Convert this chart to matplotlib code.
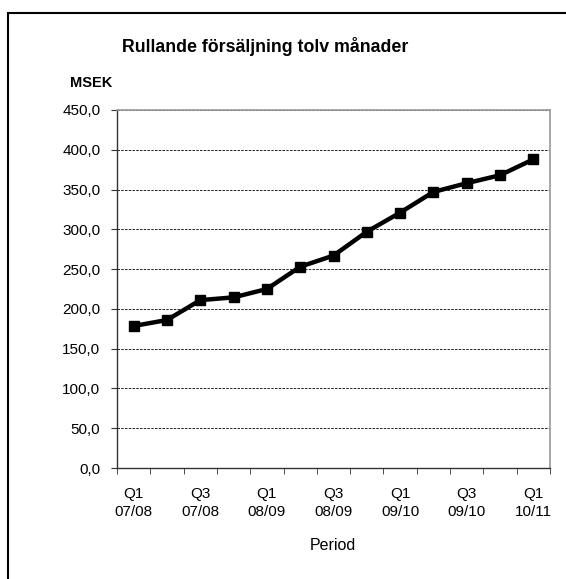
import matplotlib
matplotlib.use("Agg")
import matplotlib.pyplot as plt
from matplotlib.patches import Rectangle
from matplotlib.ticker import FixedLocator, FuncFormatter

plt.rcParams['font.family'] = ['Liberation Sans', 'DejaVu Sans']

periods = ["Q1 07/08", "Q2 07/08", "Q3 07/08", "Q4 07/08",
           "Q1 08/09", "Q2 08/09", "Q3 08/09", "Q4 08/09",
           "Q1 09/10", "Q2 09/10", "Q3 09/10", "Q4 09/10",
           "Q1 10/11"]
values = [178.5, 186, 211, 214.5, 225, 253, 267, 297, 321, 347, 358, 368, 388]
tick_labels = ["Q1\n07/08", "Q3\n07/08", "Q1\n08/09", "Q3\n08/09",
               "Q1\n09/10", "Q3\n09/10", "Q1\n10/11"]

fig = plt.figure(figsize=(5.66, 5.79), dpi=100)
ax = fig.add_axes([117/566, 1-468/579, (550-117)/566, (468-110)/579])

x = list(range(len(values)))
ax.plot(x, values, color='black', lw=3.2, marker='s', ms=7.5, zorder=3)

ax.set_xlim(-0.5, len(values)-0.5)
ax.set_ylim(0, 450)
ax.yaxis.set_major_locator(FixedLocator([i*50 for i in range(10)]))
ax.yaxis.set_major_formatter(FuncFormatter(lambda v, p: f"{v:.1f}".replace('.', ',')))
ax.set_xticks([i for i in range(0, len(values), 2)])
ax.set_xticklabels(tick_labels, linespacing=1.3)
ax.set_xticks([i-0.5 for i in range(len(values)+1)], minor=True)
ax.tick_params(axis='x', which='major', length=0, pad=14, labelsize=11)
ax.tick_params(axis='x', which='minor', length=4, direction='out', color='#333333')
ax.tick_params(axis='y', which='major', length=4, direction='out', labelsize=11, color='#333333', pad=8)
ax.grid(axis='y', color='black', ls=(0, (3, 1.5)), lw=0.6)
for s in ['top', 'right']:
    ax.spines[s].set_color('#999999')
    ax.spines[s].set_linewidth(1.2)
for s in ['left', 'bottom']:
    ax.spines[s].set_color('#333333')
    ax.spines[s].set_linewidth(1.0)
ax.set_axisbelow(True)

fig.text(0.5 * (120+410)/566, 1-47/579, "Rullande försäljning tolv månader",
         ha='center', va='center', fontsize=12.8, fontweight='bold')
fig.text(91/566, 1-83/579, "MSEK", ha='center', va='center', fontsize=10.5, fontweight='bold')
fig.text(333/566, 1-545/579, "Period", ha='center', va='center', fontsize=11.5)

fig.patches.append(Rectangle((8/566, -0.1), 1.2, 1.1 - 13/579 + 0.0,
                             transform=fig.transFigure, fill=False,
                             edgecolor='black', lw=1.5))

fig.savefig("out.png", dpi=100)
